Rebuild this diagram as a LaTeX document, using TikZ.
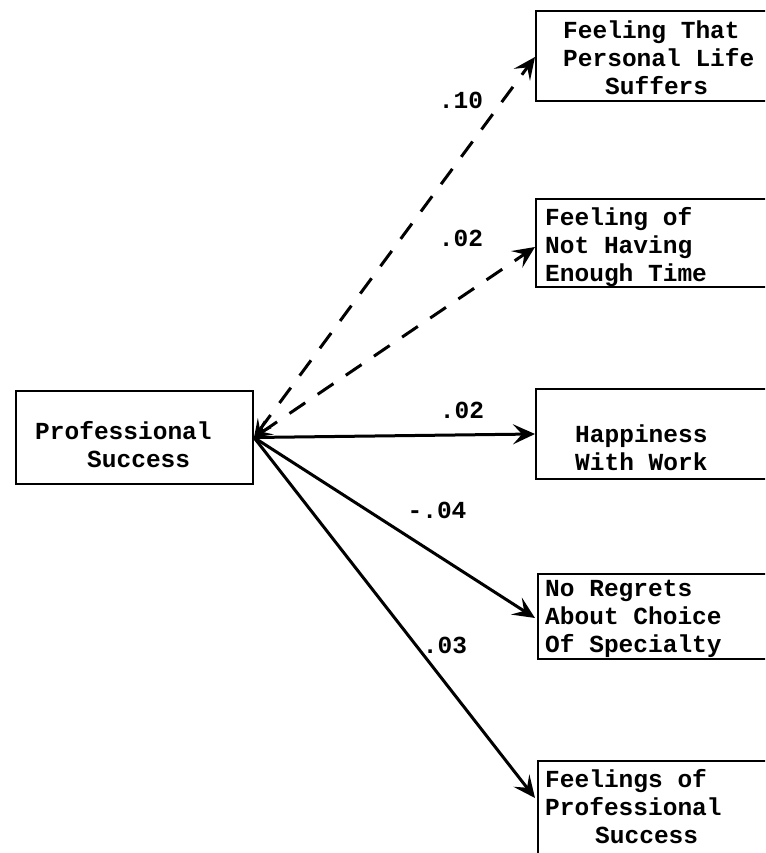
\documentclass[tikz,border=0pt]{standalone}
\usepackage{fontspec}
\setmainfont{Liberation Mono}
\usetikzlibrary{arrows.meta,calc}
\begin{document}
\begin{tikzpicture}[x=1pt,y=-1pt,
  box/.style={draw, line width=2pt, inner sep=0pt, anchor=north west},
  txt/.style={font=\fontsize{24.5}{28}\selectfont\bfseries, inner sep=0pt, align=left, anchor=base west},
  lbl/.style={font=\fontsize{24.5}{28}\selectfont\bfseries, inner sep=0pt},
  link/.style={line width=3pt, -{Stealth[length=22pt,width=20pt,inset=9pt]}},
  dlink/.style={line width=3pt, dash pattern=on 19pt off 15pt,
    {Stealth[length=18pt,width=17pt,inset=8pt]}-{Stealth[length=22pt,width=20pt,inset=9pt]}}
]
\clip (0,0) rectangle (765,853);
\fill[white] (0,0) rectangle (765,853);

% boxes
\node[box, minimum width=237pt, minimum height=93pt] (ps) at (15,390) {};
\node[box, minimum width=270pt, minimum height=90pt] (b1) at (535,10) {};
\node[box, minimum width=270pt, minimum height=88pt] (b2) at (535,198) {};
\node[box, minimum width=270pt, minimum height=90pt] (b3) at (535,388) {};
\node[box, minimum width=270pt, minimum height=85pt] (b4) at (537,573) {};
\node[box, minimum width=270pt, minimum height=120pt] (b5) at (537,760) {};

% box texts (anchored at the baseline of their last line)
\node[txt] (t0) at (35,467) {Professional\\\hspace*{52pt}Success};
\node[txt] (t1) at (563,95) {Feeling That\\Personal Life\\\hspace*{42pt}Suffers};
\node[txt] (t2) at (545,281) {Feeling of\\Not Having\\Enough Time};
\node[txt] (t3) at (575,470) {Happiness\\With Work};
\node[txt] (t4) at (545,652) {No Regrets\\About Choice\\Of Specialty};
\node[txt] (t5) at (545,843) {Feelings of\\Professional\\\hspace*{50pt}Success};

% paths
\draw[dlink] (ps.east) -- ($(b1.north west)+(0,47)$);
\draw[dlink] (ps.east) -- ($(b2.north west)+(0,49)$);
\draw[link] (ps.east) -- (b3.west);
\draw[link] (ps.east) -- ($(b4.north west)+(-2,45)$);
\draw[link] (ps.east) -- ($(b5.north west)+(-2,38)$);

% coefficients
\node[lbl] (l1) at (461,100) {.10};
\node[lbl] (l2) at (461,238) {.02};
\node[lbl] (l3) at (462,410) {.02};
\node[lbl] (l4) at (437,510) {-.04};
\node[lbl] (l5) at (445,645) {.03};
\end{tikzpicture}
\end{document}
